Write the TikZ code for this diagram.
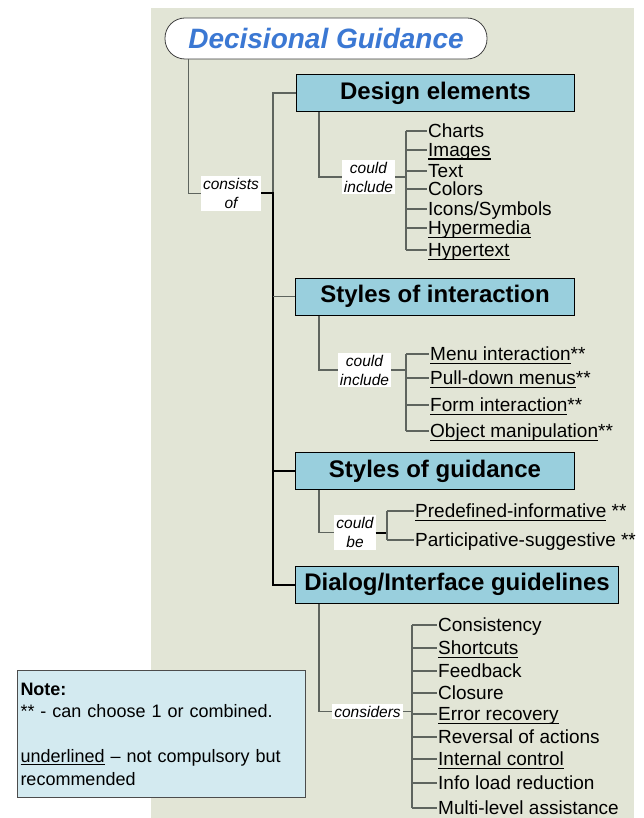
\documentclass[tikz,border=0pt]{standalone}
\usepackage{fontspec}
\setmainfont{Liberation Sans}
\usetikzlibrary{positioning}
\definecolor{panel}{HTML}{E2E5D6}
\definecolor{boxblue}{HTML}{99CFDD}
\definecolor{titleblue}{HTML}{3B78D3}
\definecolor{notefill}{HTML}{D3EAF0}
\definecolor{linegrey}{HTML}{5E645E}
\newsavebox{\undlbox}
\newcommand{\undl}[1]{\leavevmode\sbox{\undlbox}{#1}\rlap{\rule[-2.8pt]{\wd\undlbox}{1.1pt}}\usebox{\undlbox}}
\tikzset{x=1pt, y=-1pt, font=\fontsize{19}{19}\selectfont}
\tikzstyle{topic} = [draw=black!75, fill=white, rectangle, rounded corners=20pt, line width=0.8pt, minimum width=322pt, minimum height=41pt, inner sep=0pt, text=titleblue, font=\fontsize{28}{28}\selectfont\bfseries\itshape]
\tikzstyle{block} = [draw=black, fill=boxblue, rectangle, line width=1pt, minimum height=37pt, inner sep=0pt, anchor=west, font=\fontsize{24}{24}\selectfont\bfseries]
\tikzstyle{verb} = [fill=white, inner sep=2pt, align=center, font=\fontsize{15.5}{19}\selectfont\itshape]
\tikzstyle{item} = [anchor=west, inner xsep=1.5pt, inner ysep=0pt, text height=13.6pt, text depth=0pt]
\tikzstyle{link} = [draw=linegrey, line width=1.2pt]
\tikzstyle{trunk} = [draw=black, line width=2pt]
\tikzstyle{note} = [draw=black!70, fill=notefill, line width=1pt, anchor=north west, text width=282pt, inner xsep=3pt, minimum height=127pt, align=left, font=\fontsize{18}{22.5}\selectfont]
\begin{document}
\begin{tikzpicture}
	\useasboundingbox (0,0) rectangle (644,818);
	\fill [panel] (151,8) rectangle (634,818);

	\node [topic] (title) at (326,38.5) {Decisional Guidance};

	\node [block, minimum width=278pt] (design) at (296,93) {Design elements};
	\node [block, minimum width=279pt] (interact) at (295,296.5) {Styles of interaction};
	\node [block, minimum width=279pt] (guidance) at (295,471) {Styles of guidance};
	\node [block, minimum width=323pt] (dialog) at (295,584.5) {Dialog/Interface guidelines};

	\node [verb] (consists) at (231,193.5) {consists\\of};
	\node [verb] (inc_design) at (368.5,177) {could\\include};
	\node [verb] (inc_interact) at (364.5,370) {could\\include};
	\node [verb] (be_guidance) at (355,532.5) {could\\be};
	\node [verb] (con_dialog) at (367.5,711.5) {considers};

	\coordinate (spine) at (273,0);
	\coordinate (br_design) at (406,0);
	\coordinate (br_interact) at (406,0);
	\coordinate (br_guidance) at (387,0);
	\coordinate (br_dialog) at (412,0);

	\foreach \n/\t/\y in {charts/Charts/131, images/\undl{Images}/150, text/Text/171, colors/Colors/189, icons/Icons\slash Symbols/209, hypermedia/\undl{Hypermedia}/228, hypertext/\undl{Hypertext}/250}
		\node [item] (it_\n) at (426.5,\y) {\t};
	\foreach \n/\t/\y in {menu/\undl{Menu interaction}**/354, pulldown/\undl{Pull-down menus}**/378, form/\undl{Form interaction}**/405, object/\undl{Object manipulation}**/431}
		\node [item] (it_\n) at (428.5,\y) {\t};
	\foreach \n/\t/\y in {predefined/\undl{Predefined-informative} **/511, participative/Participative-suggestive **/540}
		\node [item] (it_\n) at (413.5,\y) {\t};
	\foreach \n/\t/\y in {consistency/Consistency/625, shortcuts/\undl{Shortcuts}/648, feedback/Feedback/671, closure/Closure/693, error/\undl{Error recovery}/714, reversal/Reversal of actions/737, internal/\undl{Internal control}/759, infoload/Info load reduction/783, multilevel/Multi-level assistance/808}
		\node [item] (it_\n) at (436.5,\y) {\t};

	\draw [link] ([xshift=24pt]title.south west) |- (consists.west);
	\draw [link] (design.west) -| (spine |- consists.east);
	\draw [trunk] (consists.east) -| (spine |- dialog.west) -- (dialog.west);
	\draw [link] (spine |- interact.west) -- (interact.west);
	\draw [trunk] (spine |- guidance.west) -- (guidance.west);

	\draw [link] ([xshift=23pt]design.south west) |- (inc_design.west);
	\draw [link] (inc_design.east) -- (inc_design.east -| br_design);
	\draw [link] (br_design |- it_charts.west) -- (br_design |- it_hypertext.west);
	\foreach \n in {charts, images, text, colors, icons, hypermedia, hypertext}
		\draw [link] (br_design |- it_\n.west) -- (it_\n.west);

	\draw [link] ([xshift=24pt]interact.south west) |- (inc_interact.west);
	\draw [link] (inc_interact.east) -- (inc_interact.east -| br_interact);
	\draw [link] (br_interact |- it_menu.west) -- (br_interact |- it_object.west);
	\foreach \n in {menu, pulldown, form, object}
		\draw [link] (br_interact |- it_\n.west) -- (it_\n.west);

	\draw [link] ([xshift=24pt]guidance.south west) |- (be_guidance.west);
	\draw [trunk] (be_guidance.east) -- (be_guidance.east -| br_guidance);
	\draw [link] (br_guidance |- it_predefined.west) -- (br_guidance |- it_participative.west);
	\foreach \n in {predefined, participative}
		\draw [link] (br_guidance |- it_\n.west) -- (it_\n.west);

	\draw [link] ([xshift=24pt]dialog.south west) |- (con_dialog.west);
	\draw [link] (con_dialog.east) -- (con_dialog.east -| br_dialog);
	\draw [link] (br_dialog |- it_consistency.west) -- (br_dialog |- it_multilevel.west);
	\foreach \n in {consistency, shortcuts, feedback, closure, error, reversal, internal, infoload, multilevel}
		\draw [link] (br_dialog |- it_\n.west) -- (it_\n.west);

	\node [note] (note) at (17,670) {\textbf{Note:}\\{}** - can choose 1 or combined.\\[22.5pt]\undl{underlined} -- not compulsory but\\recommended};
\end{tikzpicture}
\end{document}
